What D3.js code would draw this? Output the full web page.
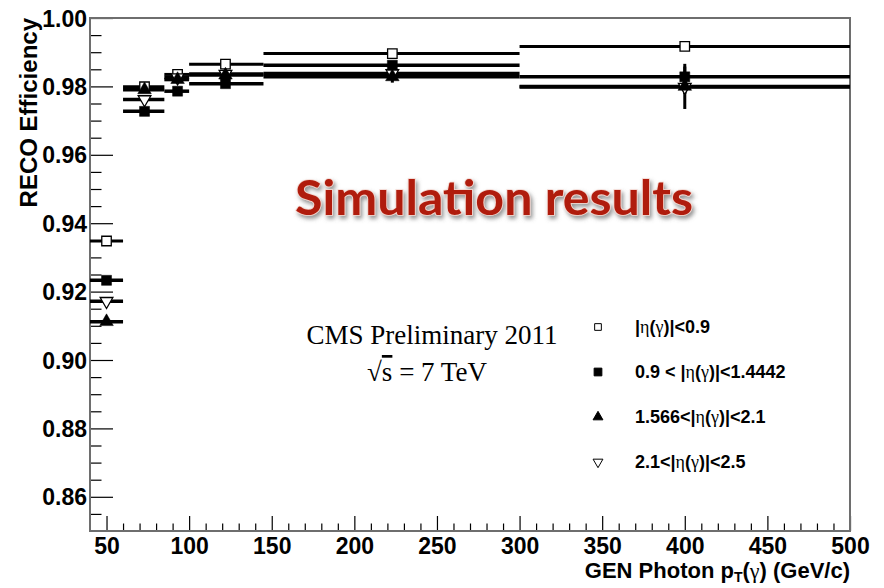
<!DOCTYPE html>
<html>
<head>
<meta charset="utf-8">
<script src="https://cdn.jsdelivr.net/npm/d3@7"></script>
<style>
  body { margin: 0; background: #fff; }
  svg { display: block; }
</style>
</head>
<body>
<svg id="chart"></svg>
<script>
// pT bins (GeV/c) and mean pT per bin
const binLow  = [40, 60, 85, 100, 145, 300]
const binHigh = [60, 85, 100, 145, 300, 500]
const ptMean  = [50, 73, 93, 122, 223, 400]

// RECO efficiency per eta region
const effEta09   = [0.9348, 0.9799, 0.9835, 0.9865, 0.9896, 0.9917]
const effEta144  = [0.9233, 0.9727, 0.9786, 0.9808, 0.9862, 0.9828]
const effEta21   = [0.9112, 0.9790, 0.9820, 0.9833, 0.9828, 0.9800]
const effEta25   = [0.9172, 0.9762, 0.9826, 0.9836, 0.9838, 0.9798]

const errEta09   = [0.0005, 0.0004, 0.0004, 0.0004, 0.0005, 0.0008]
const errEta144  = [0.0006, 0.0006, 0.0006, 0.0006, 0.0008, 0.0030]
const errEta21   = [0.0007, 0.0008, 0.0008, 0.0010, 0.0017, 0.0066]
const errEta25   = [0.0007, 0.0008, 0.0008, 0.0010, 0.0012, 0.0020]

const xTicks = [50, 100, 150, 200, 250, 300, 350, 400, 450, 500]
const yTicks = [0.86, 0.88, 0.90, 0.92, 0.94, 0.96, 0.98, 1.00]

const legendLabels = [
  ["|", "η", "(", "γ", ")|<0.9"],
  ["0.9 < |", "η", "(", "γ", ")|<1.4442"],
  ["1.566<|", "η", "(", "γ", ")|<2.1"],
  ["2.1<|", "η", "(", "γ", ")|<2.5"]
]

let width = 884
let height = 588
let padLeft = 90, padRight = 850, padTop = 18, padBottom = 531

let svg = d3.select("#chart").attr("width", width).attr("height", height)
svg.append("rect").attr("width", width).attr("height", height).attr("fill", "#fff")

let xScale = d3.scaleLinear().domain([40, 500]).range([padLeft, padRight])
let yScale = d3.scaleLinear().domain([0.85, 1.00]).range([padBottom, padTop])

const series = [
  { eff: effEta09,  err: errEta09,  marker: "openSquare" },
  { eff: effEta144, err: errEta144, marker: "square" },
  { eff: effEta21,  err: errEta21,  marker: "triangle" },
  { eff: effEta25,  err: errEta25,  marker: "openTriangleDown" }
]

const sans = "'Liberation Sans', Arial, sans-serif"

// axes
const minorX = d3.range(50, 500, 10).filter(v => v % 50 !== 0)
const minorY = d3.range(0, 30).map(i => 0.855 + i * 0.005).filter(v => v < 1.0 && Math.abs((v * 100) % 2) > 0.1)

let xAxis = d3.axisBottom(xScale).tickValues(xTicks).tickFormat(d3.format("d"))
  .tickSizeInner(-15).tickSizeOuter(0).tickPadding(7)
let xMinor = d3.axisBottom(xScale).tickValues(minorX).tickFormat("").tickSizeInner(-7.5).tickSizeOuter(0)
let yAxis = d3.axisLeft(yScale).tickValues(yTicks).tickFormat(d3.format(".2f"))
  .tickSizeInner(-23).tickSizeOuter(0).tickPadding(3)
let yMinor = d3.axisLeft(yScale).tickValues(minorY).tickFormat("").tickSizeInner(-11.5).tickSizeOuter(0)

const gx = svg.append("g").attr("transform", "translate(0," + padBottom + ")").call(xAxis)
svg.append("g").attr("transform", "translate(0," + padBottom + ")").call(xMinor)
const gy = svg.append("g").attr("transform", "translate(" + padLeft + ",0)").call(yAxis)
svg.append("g").attr("transform", "translate(" + padLeft + ",0)").call(yMinor)

svg.selectAll(".domain").remove()
svg.selectAll(".tick line").attr("stroke", "#000").attr("stroke-width", 1.2)
gx.selectAll("text").attr("font-family", sans).attr("font-weight", "bold")
  .attr("font-size", 23).attr("fill", "#000")
gy.selectAll("text").attr("font-family", sans).attr("font-weight", "bold")
  .attr("font-size", 23).attr("fill", "#000").attr("dy", "0.35em")

// frame
svg.append("rect").attr("x", padLeft).attr("y", padTop)
  .attr("width", padRight - padLeft).attr("height", padBottom - padTop)
  .attr("fill", "none").attr("stroke", "#6e6e6e").attr("stroke-width", 2)

// axis titles
svg.append("text")
  .attr("transform", "translate(37," + padTop + ") rotate(-90)")
  .attr("text-anchor", "end")
  .attr("font-family", sans).attr("font-weight", "bold").attr("font-size", 24)
  .text("RECO Efficiency")

const xt = svg.append("text").attr("x", padRight).attr("y", 578).attr("text-anchor", "end")
  .attr("font-family", sans).attr("font-weight", "bold").attr("font-size", 22)
xt.append("tspan").text("GEN Photon p")
xt.append("tspan").attr("font-size", 14).attr("dy", 4).text("T")
xt.append("tspan").attr("dy", -4).text("(")
xt.append("tspan").attr("font-family", "'Liberation Serif', serif").attr("font-weight", "normal").text("γ")
xt.append("tspan").text(") (GeV/c)")

// markers
const markerPath = {
  square: d3.symbol(d3.symbolSquare, 100)(),
  openSquare: d3.symbol(d3.symbolSquare, 90)(),
  triangle: d3.symbol(d3.symbolTriangle, 80)(),
  openTriangleDown: d3.symbol(d3.symbolTriangle, 70)()
}

const points = []
series.forEach((s, si) => {
  s.eff.forEach((v, i) => {
    points.push({ si, marker: s.marker, v, err: s.err[i], lo: binLow[i], hi: binHigh[i], pt: ptMean[i] })
  })
})

// horizontal bin bars
svg.append("g").selectAll("line").data(points).enter().append("line")
  .attr("x1", d => xScale(d.lo)).attr("x2", d => xScale(d.hi))
  .attr("y1", d => yScale(d.v)).attr("y2", d => yScale(d.v))
  .attr("stroke", "#000").attr("stroke-width", d => d.si === 0 ? 3 : 3.5)

// vertical error bars
svg.append("g").selectAll("line").data(points).enter().append("line")
  .attr("x1", d => xScale(d.pt)).attr("x2", d => xScale(d.pt))
  .attr("y1", d => yScale(d.v - d.err)).attr("y2", d => yScale(d.v + d.err))
  .attr("stroke", "#000").attr("stroke-width", 3)

const drawOrder = [0, 3, 1, 2]
drawOrder.forEach(si => {
  svg.append("g").selectAll("path").data(points.filter(p => p.si === si)).enter().append("path")
    .attr("d", markerPath[series[si].marker])
    .attr("transform", d => "translate(" + xScale(d.pt) + "," + yScale(d.v) + ")" +
      (series[si].marker === "openTriangleDown" ? " rotate(180)" : ""))
    .attr("fill", series[si].marker.startsWith("open") ? "#fff" : "#000")
    .attr("stroke", "#000").attr("stroke-width", series[si].marker.startsWith("open") ? 1.3 : 0.5)
})

// legend
const legendY = [327, 372, 417, 462]
const legendMarkers = ["openSquare", "square", "triangle", "openTriangleDown"]
const legendSym = {
  openSquare: d3.symbol(d3.symbolSquare, 45)(),
  square: d3.symbol(d3.symbolSquare, 60)(),
  triangle: d3.symbol(d3.symbolTriangle, 42)(),
  openTriangleDown: d3.symbol(d3.symbolTriangle, 42)()
}
legendLabels.forEach((parts, i) => {
  const m = legendMarkers[i]
  svg.append("path").attr("d", legendSym[m])
    .attr("transform", "translate(598," + legendY[i] + ")" + (m === "openTriangleDown" ? " rotate(180)" : ""))
    .attr("fill", m.startsWith("open") ? "#fff" : "#000")
    .attr("stroke", "#000").attr("stroke-width", 1)
  const t = svg.append("text").attr("x", 635).attr("y", legendY[i] + 6)
    .attr("font-family", sans).attr("font-weight", "bold").attr("font-size", 18)
  parts.forEach(p => {
    const greek = p === "η" || p === "γ"
    t.append("tspan")
      .attr("font-family", greek ? "'Liberation Serif', serif" : sans)
      .attr("font-weight", greek ? "normal" : "bold")
      .text(p)
  })
})

// CMS label
const serif = "'Liberation Serif', 'Times New Roman', serif"
svg.append("text").attr("x", 432).attr("y", 344).attr("text-anchor", "middle")
  .attr("font-family", serif).attr("font-size", 27).text("CMS Preliminary 2011")
const rs = svg.append("text").attr("x", 427).attr("y", 381).attr("text-anchor", "middle")
  .attr("font-family", serif).attr("font-size", 27)
rs.append("tspan").text("√")
rs.append("tspan").attr("text-decoration", "overline").text("s")
rs.append("tspan").text(" = 7 TeV")

// overlay title
const defs = svg.append("defs")
const f = defs.append("filter").attr("id", "shadow").attr("x", "-10%").attr("y", "-30%")
  .attr("width", "120%").attr("height", "160%")
f.append("feDropShadow").attr("dx", 2).attr("dy", 3).attr("stdDeviation", 2)
  .attr("flood-color", "#666").attr("flood-opacity", 0.7)
svg.append("text").attr("x", 295).attr("y", 215)
  .attr("font-family", "Lato, 'Open Sans', sans-serif").attr("font-weight", "bold")
  .attr("font-size", 48).attr("textLength", 398).attr("lengthAdjust", "spacingAndGlyphs")
  .attr("fill", "#b01c0c").attr("stroke", "#f3d6cf").attr("stroke-width", 1.6)
  .attr("paint-order", "stroke").attr("filter", "url(#shadow)")
  .text("Simulation results")
</script>
</body>
</html>
